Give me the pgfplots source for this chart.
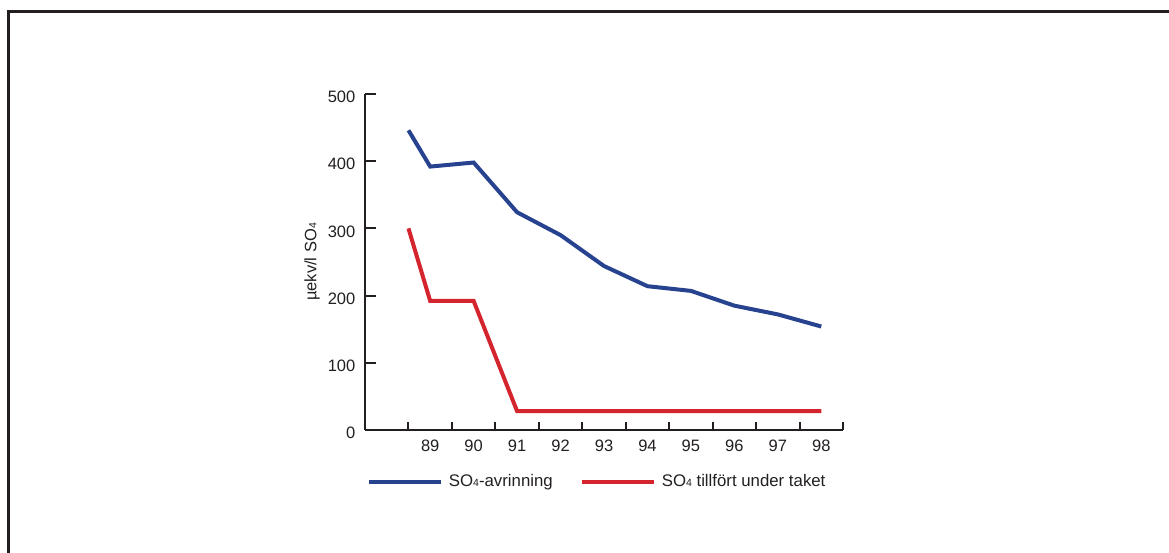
\documentclass[border=0pt]{standalone}
\usepackage{pgfplots}
\pgfplotsset{compat=1.18}
\usepackage{fontspec}
\setmainfont{Liberation Sans}
\definecolor{ink}{HTML}{231F20}
\definecolor{sblue}{HTML}{27428F}
\definecolor{sred}{HTML}{D4252E}
\newcommand{\sub}[1]{{\fontsize{10.5}{10.5}\selectfont #1}}
\newcommand{\mainfs}{\fontsize{16.5}{19}\selectfont}
\newcommand{\legfs}{\fontsize{16.8}{19}\selectfont}
\begin{document}
\mainfs
\begin{tikzpicture}[x=1pt,y=1pt]
\begin{axis}[
 at={(365pt,123pt)}, anchor=south west, scale only axis,
 width=478pt, height=336pt,
 xmin=87.5, xmax=98.5, ymin=0, ymax=500,
 axis lines=left, axis line style={-, line width=2pt, ink},
 tick align=inside,
 xtick={89,...,98}, minor xtick={88.5,89.5,...,98.5},
 ytick={0,100,...,500},
 major tick length=11pt, minor tick length=8pt,
 tick style={ink, line width=2pt},
 major x tick style={draw=none},
 /pgf/number format/assume math mode=true,
 xticklabel style={anchor=north, inner sep=0pt, yshift=-10pt, text=ink, font=\mainfs},
 yticklabel style={anchor=east, inner sep=0pt, xshift=-9.5pt, yshift=-3pt, text=ink, font=\mainfs},
 ylabel={µekv/l SO\sub{4}},
 every axis y label/.style={at={(axis description cs:-0.1109,0.5)}, rotate=90, anchor=center, text=ink, font=\mainfs},
 legend columns=2,
 legend style={draw=none, fill=none, inner sep=0pt, outer sep=0pt,
   at={(axis description cs:0.004,-0.1548)}, anchor=west, font=\legfs, text=ink,
   /tikz/every odd column/.append style={column sep=6pt},
   /tikz/every even column/.append style={column sep=27pt},
   nodes={inner sep=0pt}, cells={anchor=west}},
 legend image code/.code={\draw[#1, line width=4pt] (0pt,0pt) -- (72pt,0pt);},
]
\addplot[sblue, line width=4pt] coordinates {(88.5,446)(89,392)(90,398)(91,324)(92,290)(93,244)(94,214)(95,207)(96,185)(97,172)(98,154)};
\addlegendentry{SO\sub{4}-avrinning}
\addplot[sred, line width=4pt] coordinates {(88.5,300)(89,192)(90,192)(91,28)(92,28)(93,28)(94,28)(95,28)(96,28)(97,28)(98,28)};
\addlegendentry{SO\sub{4} tillfört under taket}
\end{axis}
\draw[ink, line width=2.7pt] (1200,541.7) -- (8.7,541.7) -- (8.7,-20);
\pgfresetboundingbox
\useasboundingbox (0,0) rectangle (1169,553);
\end{tikzpicture}
\end{document}
